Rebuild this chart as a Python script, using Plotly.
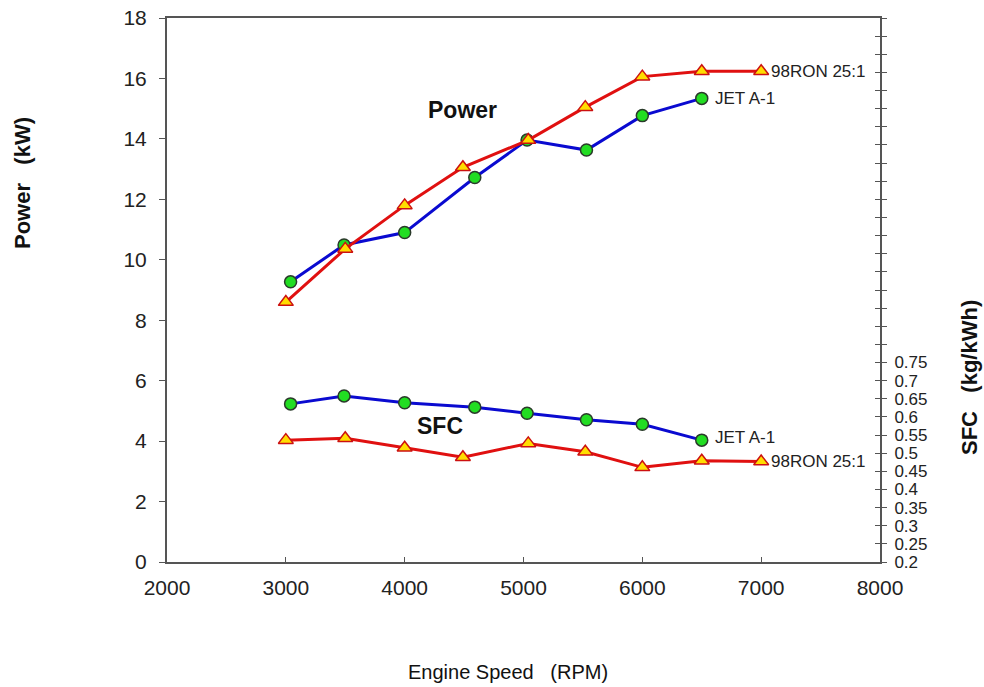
import numpy as np
import plotly.graph_objects as go

# ---------------- data ----------------
jet_rpm = [3040, 3490, 4000, 4590, 5030, 5530, 6000, 6500]
jet_power = [9.27, 10.49, 10.90, 12.72, 13.96, 13.63, 14.77, 15.34]
jet_sfc = [0.636, 0.658, 0.639, 0.627, 0.610, 0.592, 0.580, 0.536]

ron_rpm = [3000, 3500, 4000, 4490, 5040, 5520, 6000, 6500, 7000]
ron_power = [8.60, 10.36, 11.80, 13.06, 13.96, 15.05, 16.06, 16.24, 16.24]
ron_sfc = [0.536, 0.541, 0.515, 0.489, 0.527, 0.504, 0.461, 0.479, 0.477]

x_ticks = [2000, 3000, 4000, 5000, 6000, 7000, 8000]
power_ticks = [0, 2, 4, 6, 8, 10, 12, 14, 16, 18]
sfc_minor = [round(v, 2) for v in np.arange(0.2, 1.7001, 0.05)]
sfc_labels = ["0.2", "0.25", "0.3", "0.35", "0.4", "0.45", "0.5", "0.55",
              "0.6", "0.65", "0.7", "0.75"]

JET_NAME = "JET A-1"
RON_NAME = "98RON 25:1"

# ---------------- styles ----------------
BLUE = "#0a0ad0"
RED = "#e01010"
GREEN = "#22dd22"
YELLOW = "#ffdd00"
AX = "#555555"
FONT = "Liberation Sans, Arial, sans-serif"

circle = dict(symbol="circle", size=12, color=GREEN, line=dict(color="#2a3a2a", width=1.5))
tri = dict(symbol="triangle-up", size=13, color=YELLOW, line=dict(color="#cc1010", width=1.5))

fig = go.Figure()
fig.add_trace(go.Scatter(x=jet_rpm, y=jet_power, mode="lines+markers",
                         line=dict(color=BLUE, width=3), marker=circle, yaxis="y"))
fig.add_trace(go.Scatter(x=ron_rpm, y=ron_power, mode="lines+markers",
                         line=dict(color=RED, width=3), marker=tri, yaxis="y"))
fig.add_trace(go.Scatter(x=jet_rpm, y=jet_sfc, mode="lines+markers",
                         line=dict(color=BLUE, width=3), marker=circle, yaxis="y2"))
fig.add_trace(go.Scatter(x=ron_rpm, y=ron_sfc, mode="lines+markers",
                         line=dict(color=RED, width=3), marker=tri, yaxis="y2"))
# empty trace to anchor the inner tick axis
fig.add_trace(go.Scatter(x=[None], y=[None], yaxis="y3", showlegend=False, hoverinfo="skip"))

sfc_text = [sfc_labels[i] if i < len(sfc_labels) else "" for i in range(len(sfc_minor))]

fig.update_layout(
    width=984, height=687,
    margin=dict(l=167, r=104, t=18, b=125),
    paper_bgcolor="white", plot_bgcolor="white",
    showlegend=False,
    font=dict(family=FONT, color="#222222"),
    xaxis=dict(range=[2000, 8000], tickvals=x_ticks, ticks="inside", ticklen=5,
               tickcolor=AX, showline=True, linecolor=AX, linewidth=2, mirror=True,
               showgrid=False, zeroline=False, tickfont=dict(size=21, family=FONT),
               ticklabelstandoff=6, automargin=False),
    yaxis=dict(range=[0, 18], tickvals=power_ticks, ticks="outside", ticklen=6,
               tickcolor=AX, showline=True, linecolor=AX, linewidth=2,
               showgrid=False, zeroline=False, tickfont=dict(size=21, family=FONT),
               ticklabelstandoff=8, automargin=False),
    yaxis2=dict(range=[0.2, 1.7], overlaying="y", side="right", tickvals=sfc_minor,
                ticktext=sfc_text, ticks="outside", ticklen=5, tickcolor=AX,
                showline=True, linecolor=AX, linewidth=2, showgrid=False, zeroline=False,
                tickfont=dict(size=17, family=FONT), ticklabelstandoff=4, automargin=False),
    yaxis3=dict(range=[0.2, 1.7], overlaying="y", side="right", anchor="x",
                tickvals=sfc_minor, showticklabels=False, ticks="inside", ticklen=5,
                tickcolor=AX, showline=False, showgrid=False, zeroline=False,
                automargin=False),
)

ann = []
# axis titles (pixel positions converted to paper coords)
ann.append(dict(text="<b>Power   (kW)</b>", x=22, y=183, textangle=-90, size=22))
ann.append(dict(text="<b>SFC   (kg/kWh)</b>", x=969, y=378, textangle=-90, size=22))
ann.append(dict(text="Engine Speed   (RPM)", x=508, y=672, textangle=0, size=20))
ann = [dict(text=a["text"], x=(a["x"] - 167) / (880 - 167), y=(562 - a["y"]) / (562 - 18),
            xref="paper", yref="paper", xanchor="center", yanchor="middle",
            showarrow=False, textangle=a["textangle"],
            font=dict(size=a["size"], family=FONT, color="#111")) for a in ann]

# in-plot labels
ann.append(dict(text="<b>Power</b>", x=4490, y=14.96, xref="x", yref="y", showarrow=False,
                font=dict(size=23, family=FONT, color="#111")))
ann.append(dict(text="<b>SFC</b>", x=4297, y=0.575, xref="x", yref="y2", showarrow=False,
                font=dict(size=23, family=FONT, color="#111")))
ann.append(dict(text=RON_NAME, x=ron_rpm[-1], y=ron_power[-1], xref="x", yref="y",
                xanchor="left", xshift=8, showarrow=False, font=dict(size=17, family=FONT, color="#222")))
ann.append(dict(text=JET_NAME, x=jet_rpm[-1], y=jet_power[-1], xref="x", yref="y",
                xanchor="left", xshift=11, showarrow=False, font=dict(size=17, family=FONT, color="#222")))
ann.append(dict(text=JET_NAME, x=jet_rpm[-1], y=jet_sfc[-1], xref="x", yref="y2",
                xanchor="left", xshift=11, yshift=3, showarrow=False, font=dict(size=17, family=FONT, color="#222")))
ann.append(dict(text=RON_NAME, x=ron_rpm[-1], y=ron_sfc[-1], xref="x", yref="y2",
                xanchor="left", xshift=8, showarrow=False, font=dict(size=17, family=FONT, color="#222")))

fig.update_layout(annotations=ann)
fig.write_html("out.html")
